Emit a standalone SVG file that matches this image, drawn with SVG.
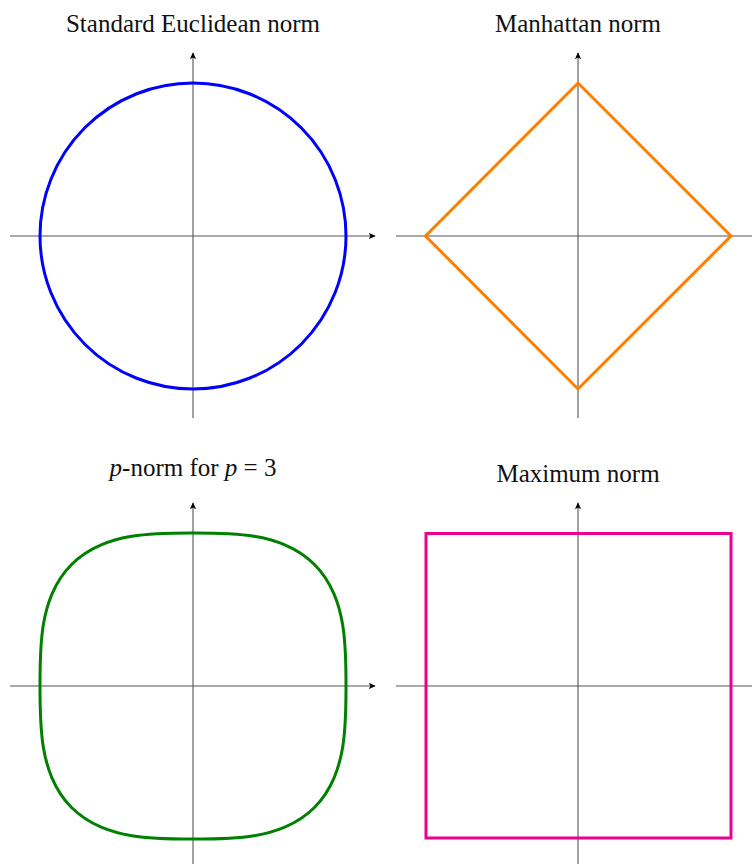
<svg xmlns="http://www.w3.org/2000/svg" width="752" height="864" viewBox="0 0 752 864">
<defs>
<marker id="arr" viewBox="0 0 10 10" refX="9" refY="5" markerWidth="7" markerHeight="7" markerUnits="userSpaceOnUse" orient="auto">
<path d="M0,0.5 L10,5 L0,9.5 L2.5,5 Z" fill="#000"/>
</marker>
</defs>
<style>
.title{font-family:"Liberation Serif","DejaVu Serif",serif;font-size:25px;fill:#111;text-anchor:middle}
.ax{stroke:#555;stroke-width:1.1;fill:none}
.axa{stroke:#555;stroke-width:1.1;fill:none;marker-end:url(#arr)}
.curve{fill:none;stroke-width:3;stroke-linejoin:miter}
</style>
<rect width="752" height="864" fill="#fff"/>

<g id="titles">
<text class="title" x="193" y="32">Standard Euclidean norm</text>
<text class="title" x="578" y="32">Manhattan norm</text>
<text class="title" x="193" y="476"><tspan font-style="italic">p</tspan>-norm for <tspan font-style="italic">p</tspan> = 3</text>
<text class="title" x="578" y="482">Maximum norm</text>
</g>

<g id="connectors">
<line class="axa" x1="10" y1="236" x2="375" y2="236"/>
<line class="axa" x1="193" y1="418" x2="193" y2="53"/>
<line class="ax" x1="396" y1="236" x2="752" y2="236"/>
<line class="axa" x1="578" y1="418" x2="578" y2="53"/>
<line class="axa" x1="10" y1="686" x2="375" y2="686"/>
<line class="axa" x1="193" y1="864" x2="193" y2="503"/>
<line class="ax" x1="396" y1="686" x2="752" y2="686"/>
<line class="axa" x1="578" y1="864" x2="578" y2="503"/>
</g>

<g id="euclidean">
<circle class="curve" cx="193" cy="236" r="153" stroke="#0000ff"/>
</g>

<g id="manhattan">
<polygon class="curve" points="578,83 731,236 578,389 425.5,236" stroke="#ff8000" stroke-width="2.6"/>
</g>

<g id="pnorm" transform="translate(193,686)">
<path class="curve" stroke="#008000" d="M0,-153 C20.4,-153 40.8,-153.075 61.2,-149.664 C71.4,-147.958 81.6,-145.398 91.8,-141.079 C101.679,-136.897 111.558,-131.315 121.436,-121.436 C131.315,-111.558 136.897,-101.679 141.079,-91.8 C145.398,-81.6 147.958,-71.4 149.664,-61.2 C153.075,-40.8 153,-20.4 153,0 C153,20.4 153.075,40.8 149.664,61.2 C147.958,71.4 145.398,81.6 141.079,91.8 C136.897,101.679 131.315,111.558 121.436,121.436 C111.558,131.315 101.679,136.897 91.8,141.079 C81.6,145.398 71.4,147.958 61.2,149.664 C40.8,153.075 20.4,153 0,153 C-20.4,153 -40.8,153.075 -61.2,149.664 C-71.4,147.958 -81.6,145.398 -91.8,141.079 C-101.679,136.897 -111.558,131.315 -121.436,121.436 C-131.315,111.558 -136.897,101.679 -141.079,91.8 C-145.398,81.6 -147.958,71.4 -149.664,61.2 C-153.075,40.8 -153,20.4 -153,0 C-153,-20.4 -153.075,-40.8 -149.664,-61.2 C-147.958,-71.4 -145.398,-81.6 -141.079,-91.8 C-136.897,-101.679 -131.315,-111.558 -121.436,-121.436 C-111.558,-131.315 -101.679,-136.897 -91.8,-141.079 C-81.6,-145.398 -71.4,-147.958 -61.2,-149.664 C-40.8,-153.075 -20.4,-153 0,-153 Z"/>
</g>

<g id="maximum">
<rect class="curve" x="426" y="533.5" width="305" height="304.5" stroke="#ec008c" stroke-width="2.6"/>
</g>
</svg>
